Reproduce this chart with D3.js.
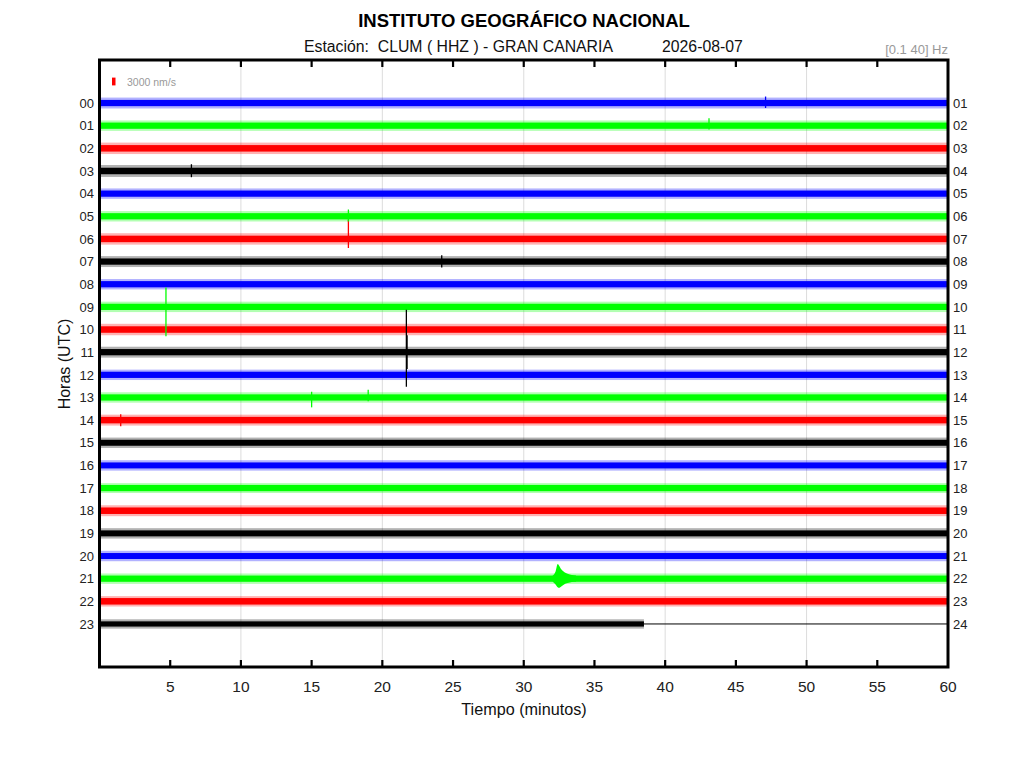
<!DOCTYPE html>
<html><head><meta charset="utf-8">
<script src="https://cdn.jsdelivr.net/npm/d3@7/dist/d3.min.js"></script>
<style>
body{margin:0;background:#fff;}
svg text{font-family:"Liberation Sans",Arial,Helvetica,sans-serif;}
</style></head>
<body><svg id="c" width="1024" height="768"></svg>
<script>
// ---- data ----
const hours = ["00","01","02","03","04","05","06","07","08","09","10","11","12","13","14","15","16","17","18","19","20","21","22","23"];
const rightLabels = ["01","02","03","04","05","06","07","08","09","10","11","12","13","14","15","16","17","18","19","20","21","22","23","24"];
const traceColors = ["#0000ff","#00ff00","#ff0000","#000000"];
const xTicks = [5,10,15,20,25,30,35,40,45,50,55,60];
const gridMinutes = [10,20,30,40,50];
// noise level per hour (nm/s): steady background and typical peaks
const coreAmp = [1200,1200,1250,1250,1200,1200,1250,1200,1200,1200,1250,1200,1200,1200,1250,1150,1150,1200,1250,1150,1150,1200,1250,1000];
const peakAmp = [2100,2000,2200,2300,2000,2000,2200,2100,2000,2000,2200,2100,2000,2000,2100,2000,2000,1900,2100,2000,2000,2000,2000,1800];
// end of recorded data per hour (minutes)
const dataEnd = [60,60,60,60,60,60,60,60,60,60,60,60,60,60,60,60,60,60,60,60,60,60,60,38.5];
// isolated spikes: hour, minute, amplitude up, amplitude down (nm/s)
const spikeHour   = [6,    5,    9,    11,    11,    13,   13,   1,    3,    0,    7,    14];
const spikeMinute = [17.6, 17.6, 4.7,  21.7,  21.75, 15.0, 19.0, 43.1, 6.5,  47.1, 24.2, 1.5];
const spikeUp     = [7400, 2600, 7500, 16300, 6500,  2200, 3000, 2900, 2600, 2500, 2400, 2300];
const spikeDown   = [3500, 2000, 11300,13300, 6500,  3800, 1500, 1500, 2400, 1900, 2300, 2400];
// earthquake at 21h: envelope [minute, up, down] (nm/s)
const quakeHour = 21;
const quakeEnv = [[32.05,1200,1200],[32.25,2800,2200],[32.4,5600,3300],[32.5,5000,3500],[32.65,3600,3000],[32.85,2600,2200],[33.1,1900,1700],[33.4,1400,1300],[33.7,1200,1200]];
const scaleBar = 3000; // nm/s

// ---- layout ----
const svg = d3.select("#c");
const L = 99.5, R = 948, T = 60, B = 667;
const x = d3.scaleLinear().domain([0,60]).range([L,R]);
const y = d3.scaleLinear().domain([-1.9,24.9]).range([T,B]);
const amp = d3.scaleLinear().domain([0,scaleBar]).range([0,7.8]);

// gridlines
svg.append("g").selectAll("line").data(gridMinutes).join("line")
  .attr("x1",d=>x(d)).attr("x2",d=>x(d)).attr("y1",T).attr("y2",B)
  .attr("stroke","#dcdcdc").attr("stroke-width",1);

// traces
const g = svg.append("g");
hours.forEach((h,i)=>{
  const col = traceColors[i%4];
  const y0 = y(i);
  const end = dataEnd[i];
  g.append("rect").attr("x",x(0)).attr("width",x(end)-x(0))
    .attr("y",y0-amp(peakAmp[i])).attr("height",2*amp(peakAmp[i]))
    .attr("fill",col).attr("opacity",0.3);
  g.append("rect").attr("x",x(0)).attr("width",x(end)-x(0))
    .attr("y",y0-amp(coreAmp[i])).attr("height",2*amp(coreAmp[i]))
    .attr("fill",col);
  if(end<60){
    g.append("line").attr("x1",x(end)).attr("x2",x(60)).attr("y1",y0).attr("y2",y0)
      .attr("stroke","#000").attr("stroke-width",1);
  }
});
// spikes
spikeHour.forEach((h,k)=>{
  const y0 = y(h);
  g.append("line").attr("x1",x(spikeMinute[k])).attr("x2",x(spikeMinute[k]))
    .attr("y1",y0-amp(spikeUp[k])).attr("y2",y0+amp(spikeDown[k]))
    .attr("stroke",traceColors[h%4]).attr("stroke-width",1.3);
});
// quake
const qa = d3.area().x(d=>x(d[0])).y0(d=>y(quakeHour)+amp(d[2])).y1(d=>y(quakeHour)-amp(d[1])).curve(d3.curveMonotoneX);
g.append("path").attr("d",qa(quakeEnv)).attr("fill",traceColors[quakeHour%4]);

// frame
svg.append("rect").attr("x",L).attr("y",T).attr("width",R-L).attr("height",B-T)
  .attr("fill","none").attr("stroke","#000").attr("stroke-width",3);
// ticks
const tk = svg.append("g");
xTicks.filter(d=>d<60).forEach(d=>{
  tk.append("line").attr("x1",x(d)).attr("x2",x(d)).attr("y1",T).attr("y2",T+7).attr("stroke","#000").attr("stroke-width",2.2);
  tk.append("line").attr("x1",x(d)).attr("x2",x(d)).attr("y1",B).attr("y2",B-7).attr("stroke","#000").attr("stroke-width",2.2);
});
// x tick labels
svg.append("g").selectAll("text").data(xTicks).join("text")
  .attr("x",d=>x(d)).attr("y",692).attr("text-anchor","middle")
  .attr("font-size",15.5).attr("fill","#222").text(d=>d);
// y labels
svg.append("g").selectAll("text").data(hours).join("text")
  .attr("x",94).attr("y",(d,i)=>y(i)+4.7).attr("text-anchor","end")
  .attr("font-size",13).attr("fill","#222").text(d=>d);
svg.append("g").selectAll("text").data(rightLabels).join("text")
  .attr("x",953).attr("y",(d,i)=>y(i)+4.7).attr("text-anchor","start")
  .attr("font-size",13).attr("fill","#222").text(d=>d);

// scale bar
svg.append("rect").attr("x",112).attr("y",81.5-amp(scaleBar)/2).attr("width",3.5).attr("height",amp(scaleBar)).attr("fill","#ff0000");
svg.append("text").attr("x",127).attr("y",85.5).attr("font-size",10.5).attr("fill","#999").text("3000 nm/s");

// titles
svg.append("text").attr("x",524).attr("y",26.5).attr("text-anchor","middle").attr("font-size",18.5).attr("font-weight","bold").attr("fill","#000").text("INSTITUTO GEOGRÁFICO NACIONAL");
svg.append("text").attr("x",304).attr("y",51.5).attr("font-size",15.8).attr("fill","#111").attr("xml:space","preserve").text("Estación:  CLUM ( HHZ ) - GRAN CANARIA");
svg.append("text").attr("x",662).attr("y",51.5).attr("font-size",15.8).attr("fill","#111").text("2026-08-07");
svg.append("text").attr("x",948).attr("y",53.5).attr("text-anchor","end").attr("font-size",13).attr("fill","#999").text("[0.1 40] Hz");
svg.append("text").attr("x",524).attr("y",715).attr("text-anchor","middle").attr("font-size",16.2).attr("fill","#111").text("Tiempo (minutos)");
svg.append("text").attr("transform","translate(70,364) rotate(-90)").attr("text-anchor","middle").attr("font-size",16).attr("fill","#111").text("Horas (UTC)");
</script></body></html>
